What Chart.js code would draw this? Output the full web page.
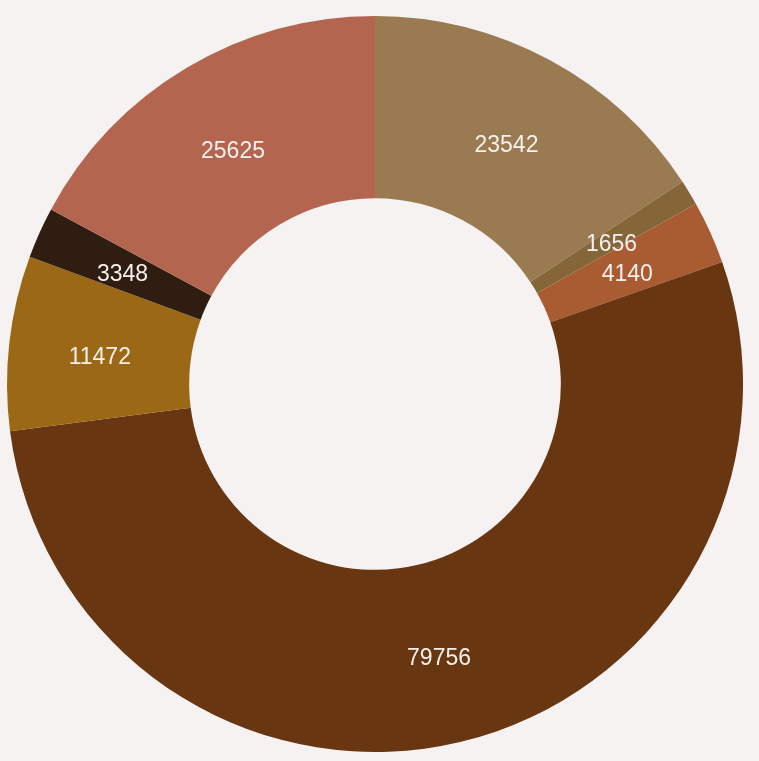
<!DOCTYPE html>
<html>
<head>
<meta charset="utf-8">
<script src="https://cdn.jsdelivr.net/npm/chart.js@4/dist/chart.umd.min.js"></script>
<style>
  html, body { margin: 0; padding: 0; background: #f6f2f2; }
  #wrap { width: 759px; height: 761px; position: relative; }
</style>
</head>
<body>
<div id="wrap"><canvas id="chart"></canvas></div>
<script>
// Slice categories, values and colours (clockwise from 12 o'clock)
const categories = ['A', 'B', 'C', 'D', 'E', 'F', 'G'];
const values = [23542, 1656, 4140, 79756, 11472, 3348, 25625];
const colors = ['#9a7a50', '#846639', '#a95b32', '#683610', '#9b6915', '#2e1d10', '#b4654f'];

// Writes each slice's value at the centre of its arc
const sliceLabels = {
  id: 'sliceLabels',
  afterDatasetsDraw(chart) {
    const ctx = chart.ctx;
    const meta = chart.getDatasetMeta(0);
    ctx.save();
    ctx.font = '23px "Liberation Sans", Arial, sans-serif';
    ctx.fillStyle = '#f7f0ec';
    ctx.textAlign = 'center';
    ctx.textBaseline = 'middle';
    meta.data.forEach((arc, i) => {
      const p = arc.tooltipPosition();
      ctx.fillText(String(chart.data.datasets[0].data[i]), p.x, p.y + 5);
    });
    ctx.restore();
  }
};

new Chart(document.getElementById('chart'), {
  type: 'doughnut',
  data: {
    labels: categories,
    datasets: [{
      data: values,
      backgroundColor: colors,
      borderWidth: 0,
      hoverOffset: 0
    }]
  },
  options: {
    responsive: true,
    maintainAspectRatio: false,
    animation: false,
    cutout: '50.5%',
    layout: { padding: { left: 7, right: 16, top: 15, bottom: 8 } },
    plugins: {
      legend: { display: false },
      tooltip: { enabled: false }
    }
  },
  plugins: [sliceLabels]
});
</script>
</body>
</html>
